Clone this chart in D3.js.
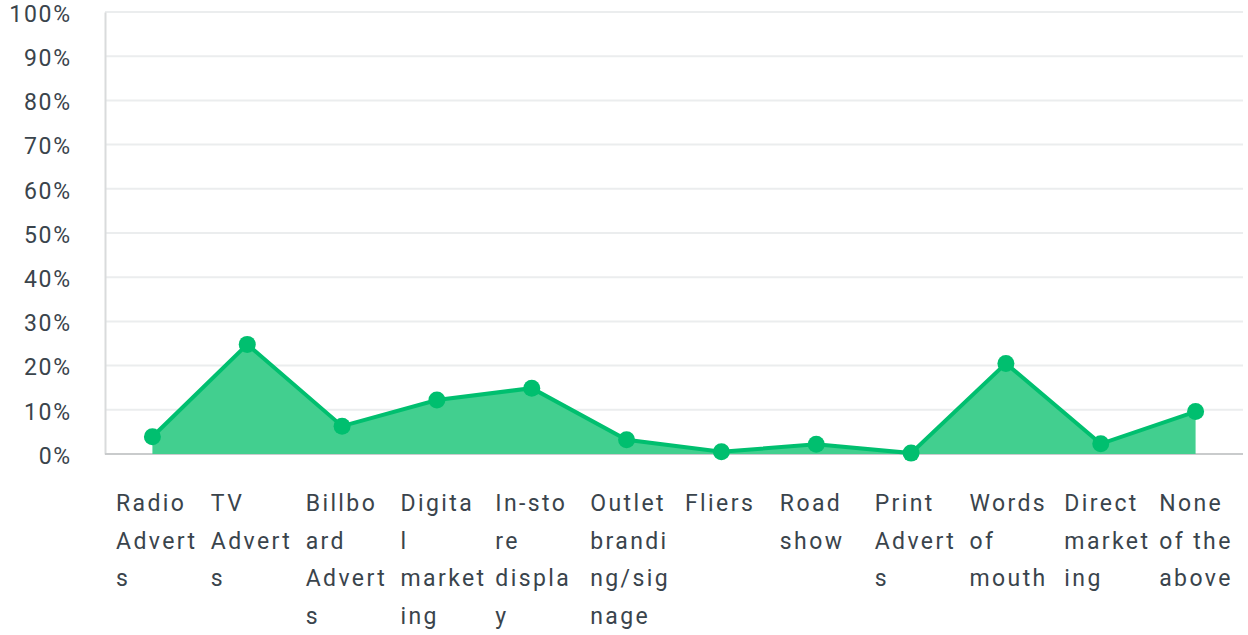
<!DOCTYPE html>
<html>
<head>
<meta charset="utf-8">
<script src="https://cdn.jsdelivr.net/npm/d3@7"></script>
<style>
    body { margin: 0; background: #fff; }
    text { font-family: Roboto, "Open Sans", sans-serif; }
</style>
</head>
<body>
<svg id="chart" width="1248" height="635"></svg>
<script>
const categories = ["Radio Adverts", "TV Adverts", "Billboard Adverts", "Digital marketing",
    "In-store display", "Outlet branding/signage", "Fliers", "Road show", "Print Adverts",
    "Words of mouth", "Direct marketing", "None of the above"]

// wrapped the way the original breaks them
const labelLines = [
    ["Radio", "Advert", "s"], ["TV", "Advert", "s"], ["Billbo", "ard", "Advert", "s"],
    ["Digita", "l", "market", "ing"], ["In-sto", "re", "displa", "y"],
    ["Outlet", "brandi", "ng/sig", "nage"], ["Fliers"], ["Road", "show"],
    ["Print", "Advert", "s"], ["Words", "of", "mouth"], ["Direct", "market", "ing"],
    ["None", "of the", "above"]
]

const values = [3.9, 24.8, 6.3, 12.2, 14.9, 3.2, 0.5, 2.2, 0.2, 20.5, 2.3, 9.6]

const yTicks = [0, 10, 20, 30, 40, 50, 60, 70, 80, 90, 100]

const margin = {left: 105, right: 5, top: 12, bottom: 181}
const width = 1248, height = 635

const svg = d3.select("#chart")

const x = d3.scaleBand()
    .domain(categories)
    .range([margin.left, width - margin.right])

const y = d3.scaleLinear()
    .domain([0, 100])
    .range([height - margin.bottom, margin.top])

const data = categories.map((c, i) => ({cat: c, v: values[i], lines: labelLines[i]}))

// grid
svg.append("g")
    .selectAll("line")
    .data(yTicks.filter(d => d > 0))
    .join("line")
    .attr("x1", margin.left)
    .attr("x2", width - margin.right)
    .attr("y1", d => y(d))
    .attr("y2", d => y(d))
    .attr("stroke", "#ebedee")
    .attr("stroke-width", 2)

// y axis
const yAxis = svg.append("g")
    .attr("transform", `translate(${margin.left},0)`)
    .call(d3.axisLeft(y).tickValues(yTicks).tickFormat(d => d + "%").tickSize(0).tickPadding(33))
yAxis.select(".domain").attr("stroke", "#d9dbdc").attr("stroke-width", 2)
yAxis.selectAll("text")
    .attr("font-size", 23)
    .attr("letter-spacing", 1.8)
    .attr("fill", "#3a444c")
    .attr("dy", "0.4em")

// baseline
svg.append("line")
    .attr("x1", margin.left)
    .attr("x2", width - margin.right)
    .attr("y1", y(0))
    .attr("y2", y(0))
    .attr("stroke", "#c9cbcc")
    .attr("stroke-width", 2)

const cx = d => x(d.cat) + x.bandwidth() / 2

const area = d3.area()
    .x(cx)
    .y0(y(0))
    .y1(d => y(d.v))

const line = d3.line()
    .x(cx)
    .y(d => y(d.v))

svg.append("path")
    .datum(data)
    .attr("d", area)
    .attr("fill", "#42cf8f")

svg.append("path")
    .datum(data)
    .attr("d", line)
    .attr("fill", "none")
    .attr("stroke", "#00bf6f")
    .attr("stroke-width", 4)

svg.append("g")
    .selectAll("circle")
    .data(data)
    .join("circle")
    .attr("cx", cx)
    .attr("cy", d => y(d.v))
    .attr("r", 8.5)
    .attr("fill", "#00bf6f")

// category labels
const labels = svg.append("g")
    .selectAll("text")
    .data(data)
    .join("text")
    .attr("x", d => x(d.cat) + 11)
    .attr("y", 511)
    .attr("font-size", 23)
    .attr("letter-spacing", 2.4)
    .attr("fill", "#3a444c")

labels.selectAll("tspan")
    .data(d => d.lines.map(l => ({l, x: x(d.cat) + 11})))
    .join("tspan")
    .attr("x", d => d.x)
    .attr("dy", (d, i) => i === 0 ? 0 : 37.5)
    .text(d => d.l)
</script>
</body>
</html>
